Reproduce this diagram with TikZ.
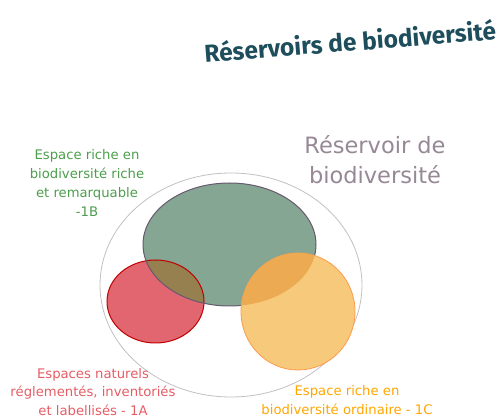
\documentclass[tikz,border=0pt]{standalone}
\usepackage{fontspec}
\setmainfont{DejaVu Sans}
\newfontfamily\titrefont{Fira Sans}
\usetikzlibrary{shapes.geometric, positioning}
\definecolor{vertRB}{RGB}{132,166,146}
\definecolor{rougeRB}{RGB}{226,102,112}
\definecolor{jauneRB}{RGB}{246,202,122}
\definecolor{brunRB}{RGB}{150,128,80}
\definecolor{orangeRB}{RGB}{236,170,82}
\definecolor{titreRB}{RGB}{30,78,92}
\definecolor{grisRB}{RGB}{150,136,148}
\definecolor{bordRB}{RGB}{104,88,112}
\tikzset{
  rb/outer/.style={draw=grisRB!55, line width=0.8pt},
  rb/jaune/.style={fill=jauneRB, draw=orange!60!pink, line width=0.8pt},
  rb/lbl/.style={align=center, inner sep=0pt,
    font=\fontsize{13.2}{18.7}\selectfont},
  rb/titre/.style={font=\titrefont\bfseries\fontsize{24.5}{26}\selectfont,
    text=titreRB, rotate=4.5, inner sep=0pt}
}
\begin{document}
\begin{tikzpicture}[x=1pt, y=-1pt]
  \useasboundingbox (0,0) rectangle (504,419);
  % titre
  \node[rb/titre] (titre) at (350,41) {Réservoirs de biodiversité};
  % grand cercle
  \draw[rb/outer] (231,285) ellipse (131 and 112);
  % espaces
  \fill[rougeRB] (155.5,301.5) ellipse (48.5 and 41.5);
  \fill[vertRB] (229.5,244.5) ellipse (86.5 and 61.5);
  \begin{scope}
    \clip (155.5,301.5) ellipse (48.5 and 41.5);
    \fill[brunRB] (229.5,244.5) ellipse (86.5 and 61.5);
  \end{scope}
  \draw[red!75!black, line width=1pt] (155.5,301.5) ellipse (48.5 and 41.5);
  \draw[bordRB, line width=1pt] (229.5,244.5) ellipse (86.5 and 61.5);
  \filldraw[rb/jaune] (298,311.5) ellipse (57 and 58.5);
  \begin{scope}
    \clip (298,311.5) ellipse (57 and 58.5);
    \fill[orangeRB] (229.5,244.5) ellipse (86.5 and 61.5);
  \end{scope}
  % textes
  \node[rb/lbl, text=grisRB, font=\fontsize{22.5}{30}\selectfont]
    (reservoir) at (375,160) {Réservoir de\\biodiversité};
  \node[rb/lbl, text=green!45!black!70!white] (l1B) at (87,183)
    {Espace riche en\\biodiversité riche\\et remarquable\\-1B};
  \node[rb/lbl, text=rougeRB!90!red] (l1A) at (93,392)
    {Espaces naturels\\réglementés, inventoriés\\et labellisés - 1A};
  \node[rb/lbl, text=orange!70!yellow] (l1C) at (347,400)
    {Espace riche en\\biodiversité ordinaire - 1C};
\end{tikzpicture}
\end{document}
